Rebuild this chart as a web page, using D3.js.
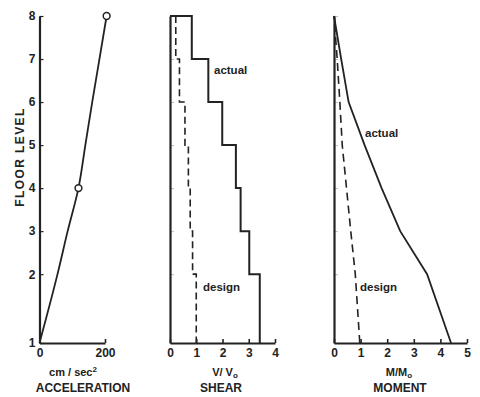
<!DOCTYPE html>
<html>
<head>
<meta charset="utf-8">
<script src="https://cdn.jsdelivr.net/npm/d3@7"></script>
<style>
  body { margin: 0; background: #fff; }
  svg { display: block; font-family: "Liberation Sans", Arial, sans-serif; }
  .axis path, .axis line { stroke: #222; }
  .axis text { fill: #222; font-size: 12px; font-weight: bold; }
</style>
</head>
<body>
<svg id="chart" width="480" height="397"></svg>
<script>
// floor levels and their elevation above floor 1 (ft)
var floors = [1, 2, 3, 4, 5, 6, 7, 8];
var floorElev = [0, 16, 26, 36, 46, 56, 66, 76];

// peak acceleration at each floor (cm/sec^2), circles at floors 4 and 8
var accel = [0, 55, 86, 119, 140, 161, 183, 205];
var accelMarked = [4, 8];

// story shear V/Vo, story 1-2 up to story 7-8
var shearActual = [3.42, 3.02, 2.69, 2.51, 1.99, 1.46, 0.83];
var shearDesign = [1.0, 0.86, 0.77, 0.70, 0.57, 0.36, 0.22];

// overturning moment M/Mo at each floor
var momentActual = [4.4, 3.5, 2.49, 1.79, 1.15, 0.55, 0.27, 0];
var momentDesign = [0.97, 0.8, 0.63, 0.47, 0.31, 0.22, 0.12, 0];

var accelTicks = [0, 200];
var shearTicks = [0, 1, 2, 3, 4];
var momentTicks = [0, 1, 2, 3, 4, 5];

var svg = d3.select("#chart");
var ink = "#222";

var y = d3.scaleLinear().domain([0, 76]).range([343, 16]);

var xAcc = d3.scaleLinear().domain([0, 200]).range([39.5, 105]);
var xShear = d3.scaleLinear().domain([0, 4]).range([170, 275]);
var xMom = d3.scaleLinear().domain([0, 5]).range([334, 467]);

function drawAxes(x, ticks, showFloors) {
    var gx = svg.append("g")
        .attr("class", "axis")
        .attr("transform", "translate(0," + y(0) + ")")
        .call(d3.axisBottom(x).tickValues(ticks).tickSize(-4).tickSizeOuter(0).tickPadding(5)
            .tickFormat(d3.format("d")));
    gx.select(".domain").attr("stroke-width", 2.2);
    gx.selectAll(".tick line").attr("stroke-width", 1.6);

    var gy = svg.append("g")
        .attr("class", "axis")
        .attr("transform", "translate(" + x(0) + ",0)")
        .call(d3.axisLeft(y).tickValues(floorElev).tickSize(-4).tickSizeOuter(0).tickPadding(4)
            .tickFormat(function (d, i) { return showFloors ? floors[i] : ""; }));
    gy.select(".domain").attr("stroke-width", 2.2);
    gy.selectAll(".tick line").attr("stroke-width", showFloors ? 1.2 : 0.6)
        .attr("opacity", showFloors ? 1 : 0.5);
    return gx;
}

drawAxes(xAcc, accelTicks, true);
drawAxes(xShear, shearTicks, false);
drawAxes(xMom, momentTicks, false);

// acceleration profile
var accLine = d3.line()
    .x(function (d, i) { return xAcc(d); })
    .y(function (d, i) { return y(floorElev[i]); })
    .curve(d3.curveMonotoneY);

svg.append("path")
    .datum(accel)
    .attr("fill", "none")
    .attr("stroke", ink)
    .attr("stroke-width", 1.8)
    .attr("d", accLine);

svg.selectAll(".marker")
    .data(accelMarked)
    .enter().append("circle")
    .attr("class", "marker")
    .attr("cx", function (f) { return xAcc(accel[floors.indexOf(f)]); })
    .attr("cy", function (f) { return y(floorElev[floors.indexOf(f)]); })
    .attr("r", 3.4)
    .attr("fill", "#fff")
    .attr("stroke", ink)
    .attr("stroke-width", 1.5);

// shear step profiles
function stepPoints(vals, closeTop) {
    var pts = [];
    if (closeTop) pts.push([0, floorElev[floorElev.length - 1]]);
    for (var i = vals.length - 1; i >= 0; i--) {
        pts.push([vals[i], floorElev[i + 1]]);
        pts.push([vals[i], floorElev[i]]);
    }
    return pts;
}

var shearLine = d3.line()
    .x(function (d) { return xShear(d[0]); })
    .y(function (d) { return y(d[1]); });

svg.append("path")
    .datum(stepPoints(shearActual, true))
    .attr("fill", "none")
    .attr("stroke", ink)
    .attr("stroke-width", 2)
    .attr("d", shearLine);

svg.append("path")
    .datum(stepPoints(shearDesign, false))
    .attr("fill", "none")
    .attr("stroke", ink)
    .attr("stroke-width", 1.6)
    .attr("stroke-dasharray", "7,4")
    .attr("d", shearLine);

// moment profiles
var momLine = d3.line()
    .x(function (d) { return xMom(d); })
    .y(function (d, i) { return y(floorElev[i]); });

svg.append("path")
    .datum(momentActual)
    .attr("fill", "none")
    .attr("stroke", ink)
    .attr("stroke-width", 1.8)
    .attr("d", momLine);

svg.append("path")
    .datum(momentDesign)
    .attr("fill", "none")
    .attr("stroke", ink)
    .attr("stroke-width", 1.6)
    .attr("stroke-dasharray", "8,5")
    .attr("d", momLine);

// labels
function label(x, yy, txt, size, extra) {
    var t = svg.append("text")
        .attr("x", x)
        .attr("y", yy)
        .attr("fill", ink)
        .attr("font-size", size)
        .attr("font-weight", "bold")
        .text(txt);
    if (extra) extra(t);
    return t;
}

label(214, 74, "actual", 11.5);
label(203, 291, "design", 11.5);
label(365, 137, "actual", 11.5);
label(360, 291, "design", 11.5);

function mid(t) { t.attr("text-anchor", "middle"); }

// units
var unitAcc = label(73, 376, "cm / sec", 11, mid);
unitAcc.append("tspan").attr("dy", -4).attr("font-size", 8).text("2");
var unitV = label(225, 376, "V/ V", 11, mid);
unitV.append("tspan").attr("dy", 2).attr("font-size", 8).text("o");
var unitM = label(399, 376, "M/M", 11, mid);
unitM.append("tspan").attr("dy", 2).attr("font-size", 8).text("o");

label(83, 392, "ACCELERATION", 12, mid);
label(221, 392, "SHEAR", 12, mid);
label(400, 392, "MOMENT", 12, mid);

label(0, 0, "FLOOR LEVEL", 12, function (t) {
    t.attr("text-anchor", "middle")
        .attr("letter-spacing", 1.4)
        .attr("transform", "translate(24,157) rotate(-90)");
});
</script>
</body>
</html>
